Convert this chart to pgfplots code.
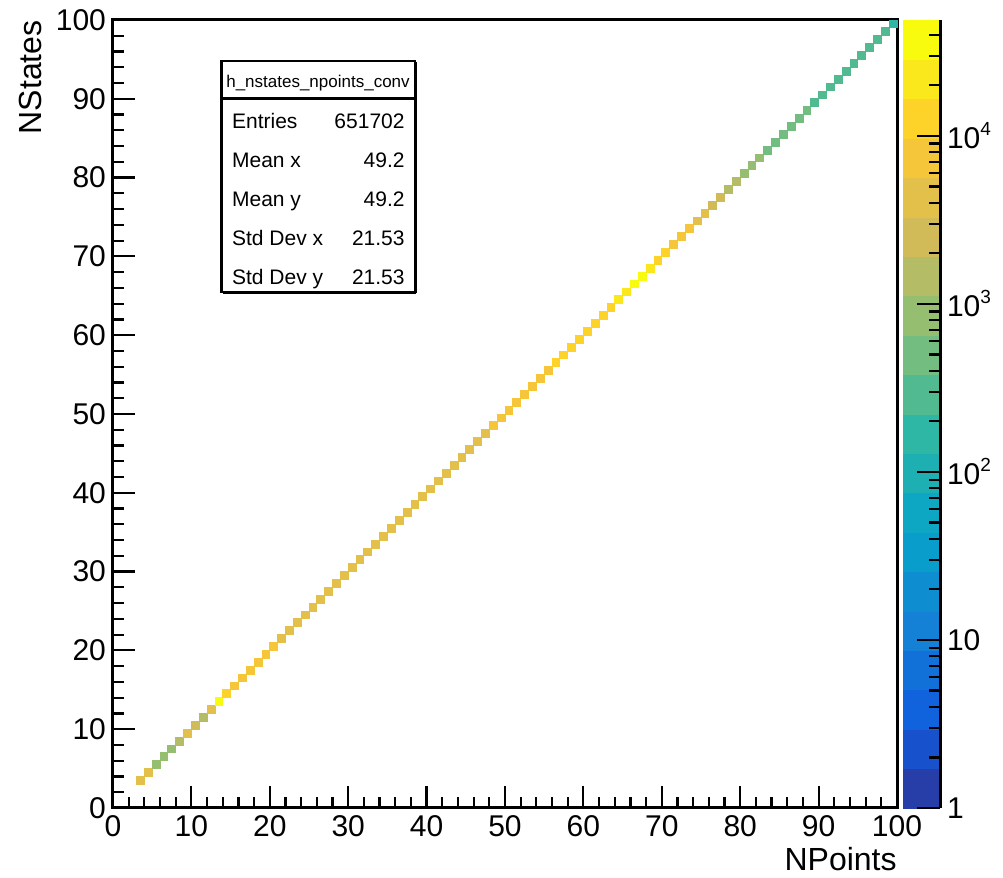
\documentclass[border=0pt]{standalone}
\usepackage{fontspec}
\setmainfont{Liberation Sans}
\usepackage{pgfplots}
\usepackage{pgfplotstable}
\pgfplotsset{compat=1.18}
\pgfplotstableread{
v c
3.5 4000
4.5 5000
5.5 900
6.5 850
7.5 900
8.5 1500
9.5 4200
10.5 2800
11.5 1700
12.5 4800
13.5 30000
14.5 14000
15.5 9000
16.5 8500
17.5 8500
18.5 8000
19.5 8000
20.5 6500
21.5 5200
22.5 5000
23.5 4300
24.5 4400
25.5 4500
26.5 4600
27.5 4400
28.5 4500
29.5 4600
30.5 4500
31.5 4400
32.5 4500
33.5 4600
34.5 4500
35.5 4400
36.5 4500
37.5 4600
38.5 4500
39.5 4400
40.5 5502
41.5 4600
42.5 4500
43.5 4400
44.5 4600
45.5 4700
46.5 4500
47.5 4500
48.5 7500
49.5 8000
50.5 8200
51.5 8500
52.5 8600
53.5 8900
54.5 9100
55.5 9200
56.5 12500
57.5 13500
58.5 14500
59.5 15000
60.5 15500
61.5 14500
62.5 12500
63.5 15500
64.5 23000
65.5 27000
66.5 38000
67.5 34000
68.5 25000
69.5 16000
70.5 14000
71.5 9500
72.5 8000
73.5 6500
74.5 5000
75.5 4000
76.5 3000
77.5 2500
78.5 1800
79.5 1400
80.5 1000
81.5 850
82.5 700
83.5 600
84.5 560
85.5 520
86.5 500
87.5 470
88.5 450
89.5 330
90.5 310
91.5 300
92.5 290
93.5 280
94.5 270
95.5 260
96.5 260
97.5 250
98.5 250
99.5 200
}\hdata
\newcommand{\sups}[1]{10\raisebox{6.5pt}{\fontsize{9.5}{9.5}\selectfont #1}}
\begin{document}
\begin{tikzpicture}
\useasboundingbox (-56.5pt,-35pt) rectangle (445pt,404pt);
\begin{axis}[
  at={(0,0)}, anchor=south west,
  scale only axis, width=392pt, height=394pt,
  xmin=0, xmax=100, ymin=0, ymax=100,
  xtick={0,10,...,100}, ytick={0,10,...,100},
  minor x tick num=4, minor y tick num=4,
  xtick pos=left, ytick pos=left,
  tick align=inside,
  major tick length=11pt, minor tick length=5.5pt,
  every tick/.style={black, line width=1.1pt},
  axis line style={line width=1.5pt},
  tick label style={font=\fontsize{15}{18}\selectfont},
  /pgf/number format/assume math mode=true,
  every axis x label/.style={at={(axis description cs:1,-0.0787)}, anchor=base east, inner sep=0pt},
  every axis y label/.style={at={(axis description cs:-0.0906,1)}, rotate=90, anchor=base east, inner sep=0pt},
  label style={font=\fontsize{16}{19}\selectfont},
  xlabel={NPoints}, ylabel={NStates},
  colormap={kbird}{rgb255=(39,61,168) rgb255=(23,81,203) rgb255=(16,99,220) rgb255=(18,113,217) rgb255=(20,128,214) rgb255=(14,142,209) rgb255=(9,157,204) rgb255=(13,167,195) rgb255=(30,175,179) rgb255=(46,183,164) rgb255=(82,186,145) rgb255=(116,189,128) rgb255=(150,190,113) rgb255=(180,189,101) rgb255=(209,187,89) rgb255=(227,192,74) rgb255=(245,198,58) rgb255=(253,211,42) rgb255=(251,232,28) rgb255=(249,251,14)},
  colormap access=const,
  point meta min=0, point meta max=4.6893,
  colorbar,
  colorbar shift/.style={xshift=3pt},
  colorbar style={
    at={(parent axis.north east)}, anchor=north west,
    width=18.5pt,
    ymin=0, ymax=4.6893,
    ytick={0,1,2,3,4},
    yticklabels={1,10,\sups{2},\sups{3},\sups{4}},
    minor ytick={0.30103,0.47712,0.60206,0.69897,0.77815,0.84510,0.90309,0.95424,
      1.30103,1.47712,1.60206,1.69897,1.77815,1.84510,1.90309,1.95424,
      2.30103,2.47712,2.60206,2.69897,2.77815,2.84510,2.90309,2.95424,
      3.30103,3.47712,3.60206,3.69897,3.77815,3.84510,3.90309,3.95424,
      4.30103,4.47712,4.60206},
    ytick pos=right, yticklabel pos=right,
    tick align=inside,
    major tick length=11.5pt, minor tick length=5.5pt,
    every tick/.style={black, line width=1.1pt},
    axis line style={draw=none},
    tick label style={font=\fontsize{15}{18}\selectfont},
    /pgf/number format/assume math mode=true,
    after end axis/.code={\draw[line width=1.5pt] (rel axis cs:1,0) -- (rel axis cs:1,1);},
  },
]
\addplot[scatter, only marks, mark=square*, mark size=1.96pt,
  scatter/use mapped color={draw=mapped color, fill=mapped color},
  point meta={log10(\thisrow{c})}] table[x=v, y=v] {\hdata};
\fill[white] (axis cs:13.87,65.5) rectangle (axis cs:38.52,94.8);
\draw[line width=1.3pt] (axis cs:13.87,65.5) rectangle (axis cs:38.52,94.8);
\draw[line width=1.3pt] (axis cs:13.87,90.06) -- (axis cs:38.52,90.06);
\draw[line width=1.3pt] (axis cs:38.62,65.4) -- (axis cs:38.62,94.7);
\draw[line width=1.3pt] (axis cs:13.97,65.4) -- (axis cs:38.62,65.4);
\node[anchor=base, inner sep=0pt, font=\fontsize{8.5}{10}\selectfont] at (axis cs:26.15,91.46) {h\_nstates\_npoints\_conv};
\begin{scope}[every node/.style={inner sep=0pt, font=\fontsize{10.5}{12}\selectfont}]
\node[anchor=base west] at (axis cs:15.14,86.17) {Entries};
\node[anchor=base east] at (axis cs:37.24,86.17) {651702};
\node[anchor=base west] at (axis cs:15.14,81.24) {Mean x};
\node[anchor=base east] at (axis cs:37.24,81.24) {49.2};
\node[anchor=base west] at (axis cs:15.14,76.31) {Mean y};
\node[anchor=base east] at (axis cs:37.24,76.31) {49.2};
\node[anchor=base west] at (axis cs:15.14,71.38) {Std Dev x};
\node[anchor=base east] at (axis cs:37.24,71.38) {21.53};
\node[anchor=base west] at (axis cs:15.14,66.45) {Std Dev y};
\node[anchor=base east] at (axis cs:37.24,66.45) {21.53};
\end{scope}
\end{axis}
\end{tikzpicture}
\end{document}
